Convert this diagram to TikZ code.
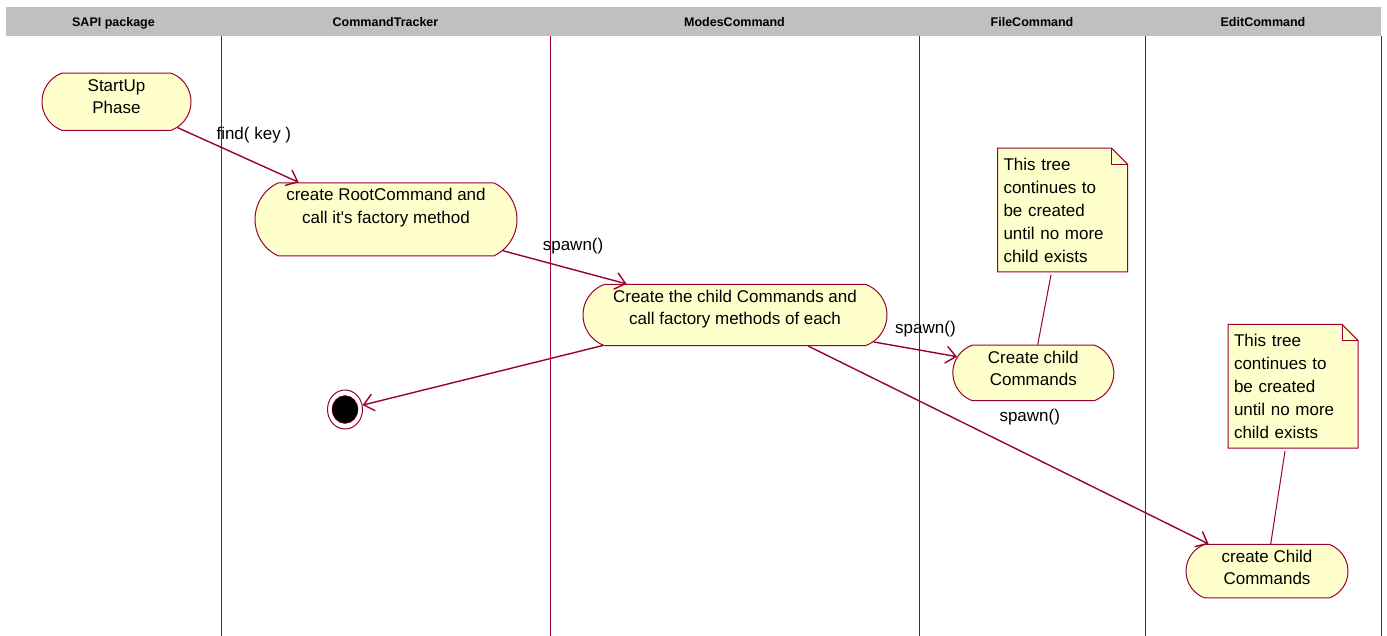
\documentclass[tikz,border=0pt]{standalone}
\usepackage{fontspec}
\setmainfont{Liberation Sans}
\usetikzlibrary{shapes.misc,shapes.geometric,arrows.meta,backgrounds}
\definecolor{umlred}{RGB}{153,0,51}
\definecolor{umlfill}{RGB}{255,255,204}
\definecolor{hdrgray}{RGB}{192,192,192}
\tikzset{
  lanehead/.style={anchor=base, font=\bfseries\fontsize{12.5}{15}\selectfont},
  activity/.style={rounded rectangle, rounded rectangle arc length=140, draw=umlred, line width=1pt,
    fill=umlfill, align=center, inner xsep=0pt, inner ysep=0pt, text height=40.5pt,
    font=\fontsize{17}{22.5}\selectfont},
  memo/.style={rectangle, align=left, text width=118pt, inner xsep=5.6pt, inner ysep=0pt,
    minimum width=129.6pt, minimum height=123.4pt, font=\fontsize{17}{23}\selectfont},
  flow/.style={draw=umlred, line width=1.4pt, -{Straight Barb[length=10pt,width=17pt]}},
  memolink/.style={draw=umlred, line width=1pt},
  msg/.style={anchor=base west, font=\fontsize{17}{20}\selectfont}
}
\begin{document}
\begin{tikzpicture}[x=1pt, y=-1pt]
\useasboundingbox (0,0) rectangle (1387,636);

% swimlane header and lanes
\fill[hdrgray] (6,7.5) rectangle (1381,36);
\foreach \x in {221,550,919,1145,1381}
  \draw[umlred, line width=0.9pt] (\x,36) -- (\x,636);
\node[lanehead] (hdrSapi) at (113.5,27) {SAPI package};
\node[lanehead] (hdrTracker) at (385.5,27) {CommandTracker};
\node[lanehead] (hdrModes) at (734.5,27) {ModesCommand};
\node[lanehead] (hdrFile) at (1032,27) {FileCommand};
\node[lanehead] (hdrEdit) at (1263,27) {EditCommand};

% activities
\node[activity, minimum width=149pt, text depth=16.7pt] (startup) at (116.5,101.7) {StartUp\\Phase};
\node[activity, rounded rectangle arc length=130, minimum width=262pt, text depth=32.7pt] (root) at (386,219.4)
  {create RootCommand and\\call it\textquotesingle s factory method};
\node[activity, minimum width=304pt, text depth=20.7pt] (modes) at (735,315)
  {Create the child Commands and\\call factory methods of each};
\node[activity, minimum width=161pt, text depth=15pt] (filechild) at (1033.3,372.9) {Create child\\Commands};
\node[activity, minimum width=162pt, text depth=13pt] (editchild) at (1267,571.2) {create Child\\Commands};

% final state
\node[ellipse, draw=umlred, line width=1pt, fill=white, minimum width=35pt, minimum height=39pt, inner sep=0pt] (final) at (345,409.5) {};
\node[ellipse, draw=umlred, fill=black, minimum width=26pt, minimum height=28pt, inner sep=0pt] (finaldot) at (final) {};

% notes
\node[memo] (treeA) at (1062.5,210) {This tree\\continues to\\be created\\until no more\\child exists};
\node[memo] (treeB) at (1293,386.3) {This tree\\continues to\\be created\\until no more\\child exists};
\begin{scope}[on background layer]
\foreach \m in {treeA,treeB}{
  \draw[umlred, fill=umlfill, line width=1pt] (\m.south west) -- (\m.north west) -- ([xshift=-16pt]\m.north east)
    -- ([yshift=-16pt]\m.north east) -- (\m.south east) -- cycle;
  \draw[umlred, line width=1pt] ([xshift=-16pt]\m.north east) -- ([xshift=-16pt,yshift=-16pt]\m.north east)
    -- ([yshift=-16pt]\m.north east);
}
\end{scope}
\draw[memolink] ([xshift=-11.5pt,yshift=-3pt]treeA.south) -- ([xshift=4.4pt]filechild.north);
\draw[memolink] ([xshift=-8pt,yshift=-3pt]treeB.south) -- ([xshift=3.7pt]editchild.north);

% transitions
\draw[flow] (startup.-23.3) -- (root.157);
\draw[flow] (root.-15.1) -- (modes.164.5);
\draw[flow] (modes.193.7) -- (final);
\draw[flow] (modes.-11.1) -- (filechild.168);
\draw[flow] (modes.-23.9) -- (editchild.155.7);

% messages
\node[msg] (findLbl) at (213,140) {find( key )};
\node[msg] (spawnRoot) at (539.3,251) {spawn()};
\node[msg] (spawnFile) at (891.7,333.3) {spawn()};
\node[msg] (spawnEdit) at (996,421.5) {spawn()};
\end{tikzpicture}
\end{document}
